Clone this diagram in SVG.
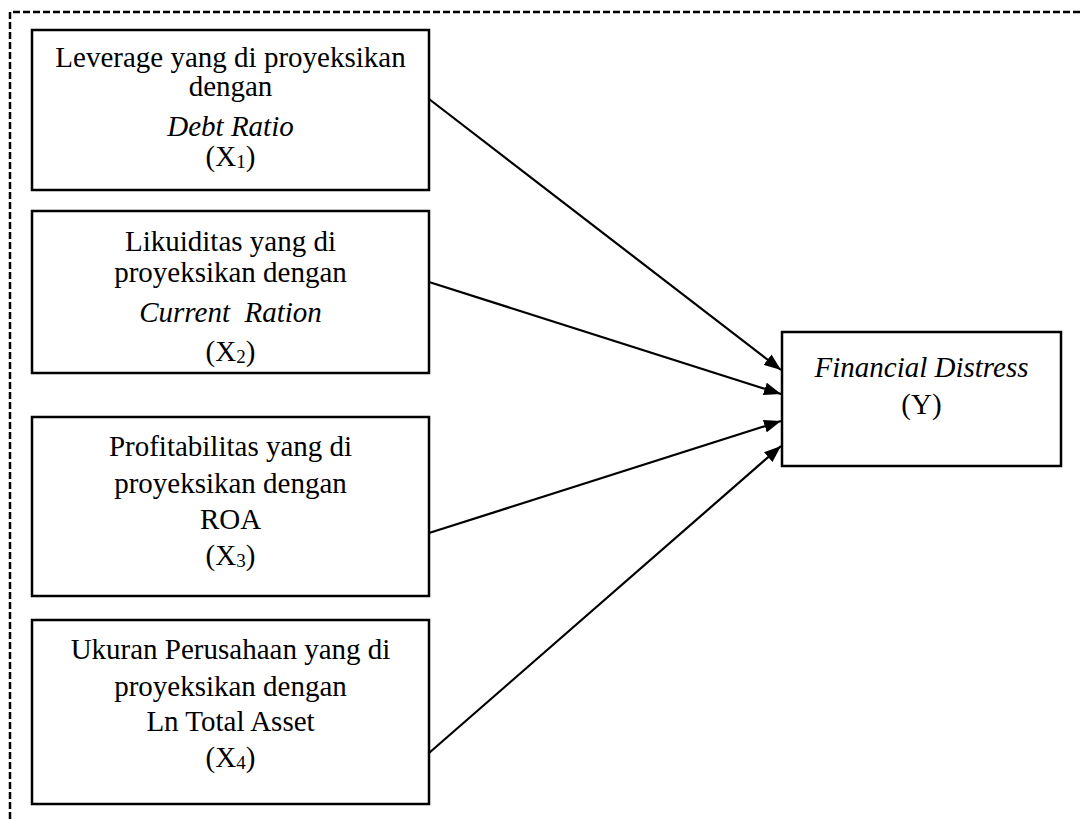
<svg xmlns="http://www.w3.org/2000/svg" width="1080" height="819" viewBox="0 0 1080 819">
<style>
.box{fill:#fff;stroke:#000;stroke-width:2.5}
.t{font-family:"Liberation Serif","Times New Roman",serif;font-size:29px;fill:#000;text-anchor:middle}
.i{font-style:italic}
.sub{font-size:19px}
.conn{stroke:#000;stroke-width:2.2;fill:none;marker-end:url(#arr)}
.frame{fill:none;stroke:#000;stroke-width:2.5;stroke-dasharray:7 3}
</style>
<defs>
<marker id="arr" markerUnits="userSpaceOnUse" markerWidth="18" markerHeight="13" refX="17" refY="6.5" orient="auto">
<path d="M0,0 L17,6.5 L0,13 z" fill="#000"/>
</marker>
</defs>
<rect width="1080" height="819" fill="#fff"/>
<path class="frame" d="M10,819 V12 H1080"/>
<g id="connectors">
<line class="conn" x1="429" y1="99" x2="781" y2="370"/>
<line class="conn" x1="429" y1="282" x2="781" y2="394"/>
<line class="conn" x1="429" y1="533" x2="781" y2="421"/>
<line class="conn" x1="429" y1="753" x2="781" y2="446"/>
</g>
<g id="x1">
<rect class="box" x="32" y="30" width="397" height="160"/>
<text class="t" x="230.5" y="67">Leverage yang di proyeksikan</text>
<text class="t" x="230.5" y="96">dengan</text>
<text class="t i" x="230.5" y="136">Debt Ratio</text>
<text class="t" x="230.5" y="166">(X<tspan class="sub" dy="2">1</tspan><tspan dy="-2">)</tspan></text>
</g>
<g id="x2">
<rect class="box" x="32" y="211" width="397" height="162"/>
<text class="t" x="230.5" y="251">Likuiditas yang di</text>
<text class="t" x="230.5" y="282">proyeksikan dengan</text>
<text class="t i" x="230.5" y="322" xml:space="preserve">Current  Ration</text>
<text class="t" x="230.5" y="361">(X<tspan class="sub" dy="2">2</tspan><tspan dy="-2">)</tspan></text>
</g>
<g id="x3">
<rect class="box" x="32" y="417" width="397" height="179"/>
<text class="t" x="230.5" y="456">Profitabilitas yang di</text>
<text class="t" x="230.5" y="493">proyeksikan dengan</text>
<text class="t" x="230.5" y="529">ROA</text>
<text class="t" x="230.5" y="565">(X<tspan class="sub" dy="2">3</tspan><tspan dy="-2">)</tspan></text>
</g>
<g id="x4">
<rect class="box" x="32" y="620" width="397" height="184"/>
<text class="t" x="230.5" y="659">Ukuran Perusahaan yang di</text>
<text class="t" x="230.5" y="696">proyeksikan dengan</text>
<text class="t" x="230.5" y="731">Ln Total Asset</text>
<text class="t" x="230.5" y="767">(X<tspan class="sub" dy="2">4</tspan><tspan dy="-2">)</tspan></text>
</g>
<g id="y">
<rect class="box" x="782" y="332" width="279" height="134"/>
<text class="t i" x="921.5" y="377">Financial Distress</text>
<text class="t" x="921.5" y="414">(Y)</text>
</g>
</svg>
